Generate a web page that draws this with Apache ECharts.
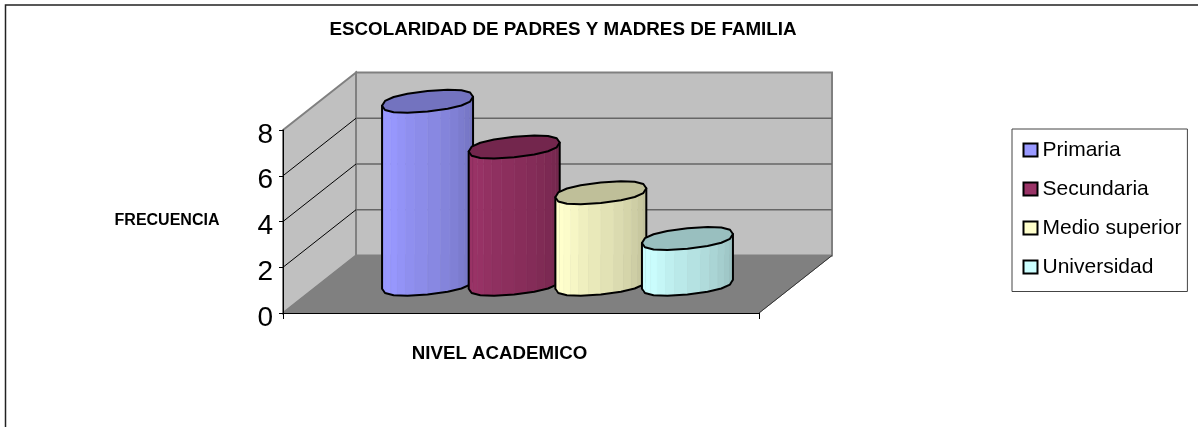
<!DOCTYPE html>
<html>
<head>
<meta charset="utf-8">
<style>
  html, body { margin: 0; padding: 0; background: #fff; }
  #main { width: 1198px; height: 427px; }
</style>
<script src="https://cdn.jsdelivr.net/npm/echarts@6/dist/echarts.min.js"></script>
</head>
<body>
<div id="main"></div>
<script>
// datos
var categories = ['Nivel'];
var seriesNames = ['Primaria', 'Secundaria', 'Medio superior', 'Universidad'];
var seriesValues = [8, 6, 4, 2];
var seriesColors = ['#9999ff', '#993366', '#ffffcc', '#ccffff'];
var yTicks = [0, 2, 4, 6, 8];

// perspectiva del grafico 3D de Excel
var DEPTH_X = 73;
var DEPTH_Y = -57.5;
var FONT = '"Liberation Sans", Arial, sans-serif';

function shade(hex, k) {
  var n = parseInt(hex.slice(1), 16);
  var r = Math.round(((n >> 16) & 255) * k);
  var g = Math.round(((n >> 8) & 255) * k);
  var b = Math.round((n & 255) * k);
  return 'rgb(' + r + ',' + g + ',' + b + ')';
}

function renderWalls(params, api) {
  var o = api.coord([0, 0]);
  var top = api.coord([0, yTicks[yTicks.length - 1]]);
  var w = api.size([1, 0])[0];
  var x0 = o[0] - w / 2;
  var x1 = o[0] + w / 2;
  var y0 = o[1];
  var y1 = top[1];
  var children = [
    { type: 'polygon', shape: { points: [[x0 + DEPTH_X, y1 + DEPTH_Y], [x1 + DEPTH_X, y1 + DEPTH_Y], [x1 + DEPTH_X, y0 + DEPTH_Y], [x0 + DEPTH_X, y0 + DEPTH_Y]] },
      style: { fill: '#c0c0c0', stroke: '#808080', lineWidth: 2 } },
    { type: 'polygon', shape: { points: [[x0, y1], [x0 + DEPTH_X, y1 + DEPTH_Y], [x0 + DEPTH_X, y0 + DEPTH_Y], [x0, y0]] },
      style: { fill: '#c0c0c0', stroke: '#808080', lineWidth: 2 } }
  ];
  yTicks.slice(1, -1).forEach(function (v) {
    var y = api.coord([0, v])[1];
    children.push({ type: 'line', shape: { x1: x0, y1: y, x2: x0 + DEPTH_X, y2: y + DEPTH_Y }, style: { stroke: '#000', lineWidth: 1 } });
    children.push({ type: 'line', shape: { x1: x0 + DEPTH_X, y1: y + DEPTH_Y, x2: x1 + DEPTH_X, y2: y + DEPTH_Y }, style: { stroke: '#666', lineWidth: 1.5 } });
  });
  children.push({ type: 'polygon', shape: { points: [[x0, y0], [x1, y0], [x1 + DEPTH_X, y0 + DEPTH_Y], [x0 + DEPTH_X, y0 + DEPTH_Y]] },
    style: { fill: '#808080', stroke: '#808080', lineWidth: 1 } });
  children.push({ type: 'line', shape: { x1: x1, y1: y0, x2: x1 + DEPTH_X, y2: y0 + DEPTH_Y }, style: { stroke: '#333', lineWidth: 1 } });
  return { type: 'group', children: children };
}

function pow(v) {
  return (v < 0 ? -1 : 1) * Math.pow(Math.abs(v), 0.85);
}

function makeCylinder(i) {
  return function (params, api) {
    var w = api.size([1, 0])[0];
    var base = api.coord([api.value(0), 0]);
    var head = api.coord([api.value(0), api.value(1)]);
    var cx = base[0] + (i - 1.5) * w * 0.182 + DEPTH_X / 2;
    var yb = base[1] + DEPTH_Y / 2;
    var yt = head[1] + DEPTH_Y / 2;
    // contorno poligonal, un poco mas lleno que una elipse
    var rx = 45.5, tilt = 4.5, ry = 10.2, steps = 8;
    var pt = function (t, cy) {
      var c = pow(Math.cos(t)), s = pow(Math.sin(t));
      return [cx + rx * c, cy - tilt * c + ry * s];
    };
    var color = seriesColors[i];
    var children = [];
    var outline = [];
    var ring = [];
    var j;
    var facets = 14;
    // caras del cuerpo, de derecha a izquierda
    for (j = 0; j < facets; j++) {
      var a = Math.PI * j / facets;
      var b = Math.PI * (j + 1) / facets;
      var pos = 1 - (j + 0.5) / facets; // 0 izquierda, 1 derecha
      var k = pos < 0.08 ? 0.93 : (pos < 0.22 ? 1 : 1 - (pos - 0.22) * 0.36);
      children.push({
        type: 'polygon',
        shape: { points: [pt(a, yt), pt(b, yt), pt(b, yb), pt(a, yb)] },
        style: { fill: shade(color, k), stroke: shade(color, k), lineWidth: 0.5 }
      });
    }
    for (j = 0; j <= steps; j++) outline.push(pt(Math.PI * j / steps, yb));
    outline.push(pt(Math.PI, yt));
    outline.push(pt(0, yt));
    for (j = 0; j < steps * 2; j++) ring.push(pt(Math.PI * j / steps, yt));
    children.push({ type: 'polygon', shape: { points: outline }, style: { fill: 'none', stroke: '#000', lineWidth: 2, lineJoin: 'round' } });
    children.push({ type: 'polygon', shape: { points: ring }, style: { fill: shade(color, 0.75), stroke: '#000', lineWidth: 2, lineJoin: 'round' } });
    return { type: 'group', children: children };
  };
}

var series = [{
  name: 'paredes',
  type: 'custom',
  silent: true,
  z: 1,
  data: [[0, 0]],
  renderItem: renderWalls
}];
seriesNames.forEach(function (name, i) {
  series.push({
    name: name,
    type: 'custom',
    silent: true,
    z: 2 + i,
    itemStyle: { color: seriesColors[i] },
    encode: { x: 0, y: 1 },
    data: [[0, seriesValues[i]]],
    renderItem: makeCylinder(i)
  });
});

var chart = echarts.init(document.getElementById('main'), null, { renderer: 'canvas' });
chart.setOption({
  animation: false,
  backgroundColor: '#fff',
  textStyle: { fontFamily: FONT },
  title: [
    { text: 'ESCOLARIDAD DE PADRES Y MADRES DE FAMILIA', left: 563, top: 20, textAlign: 'center', padding: 0,
      textStyle: { fontSize: 18.8, fontWeight: 'bold', color: '#000', fontFamily: FONT } },
    { text: 'FRECUENCIA', left: 167, top: 213, textAlign: 'center', padding: 0,
      textStyle: { fontSize: 16, fontWeight: 'bold', color: '#000', fontFamily: FONT } },
    { text: 'NIVEL ACADEMICO', left: 499.5, top: 344, textAlign: 'center', padding: 0,
      textStyle: { fontSize: 18.7, fontWeight: 'bold', color: '#000', fontFamily: FONT } }
  ],
  legend: {
    left: 1012,
    top: 129,
    orient: 'vertical',
    data: seriesNames.map(function (n) { return { name: n, icon: 'rect' }; }),
    itemWidth: 14,
    itemHeight: 13,
    itemGap: 18,
    padding: [10.5, 6, 14, 10.5],
    borderColor: '#444',
    borderWidth: 1,
    itemStyle: { borderColor: '#000', borderWidth: 2 },
    selectedMode: false,
    textStyle: { fontSize: 21, color: '#000', fontFamily: FONT, padding: [0, 0, 5, 0] }
  },
  grid: { left: 283, top: 130, width: 476, height: 183, containLabel: false },
  xAxis: {
    type: 'category',
    data: categories,
    z: 10,
    axisLine: { lineStyle: { color: '#000', width: 1 } },
    axisTick: { show: true, length: 6, lineStyle: { color: '#000' } },
    axisLabel: { show: false },
    splitLine: { show: false }
  },
  yAxis: {
    type: 'value',
    min: 0,
    max: 8,
    interval: 2,
    z: 10,
    axisLine: { show: true, lineStyle: { color: '#000', width: 1 } },
    axisTick: { show: true, length: 4, lineStyle: { color: '#000' } },
    axisLabel: { fontSize: 28, color: '#000', margin: 10, fontFamily: FONT, verticalAlign: 'top', lineHeight: 10 },
    splitLine: { show: false }
  },
  graphic: [{
    type: 'rect',
    silent: true,
    z: 100,
    shape: { x: 5.5, y: 5, width: 1300, height: 600 },
    style: { fill: 'none', stroke: '#222', lineWidth: 1.5 }
  }],
  series: series
});
</script>
</body>
</html>
